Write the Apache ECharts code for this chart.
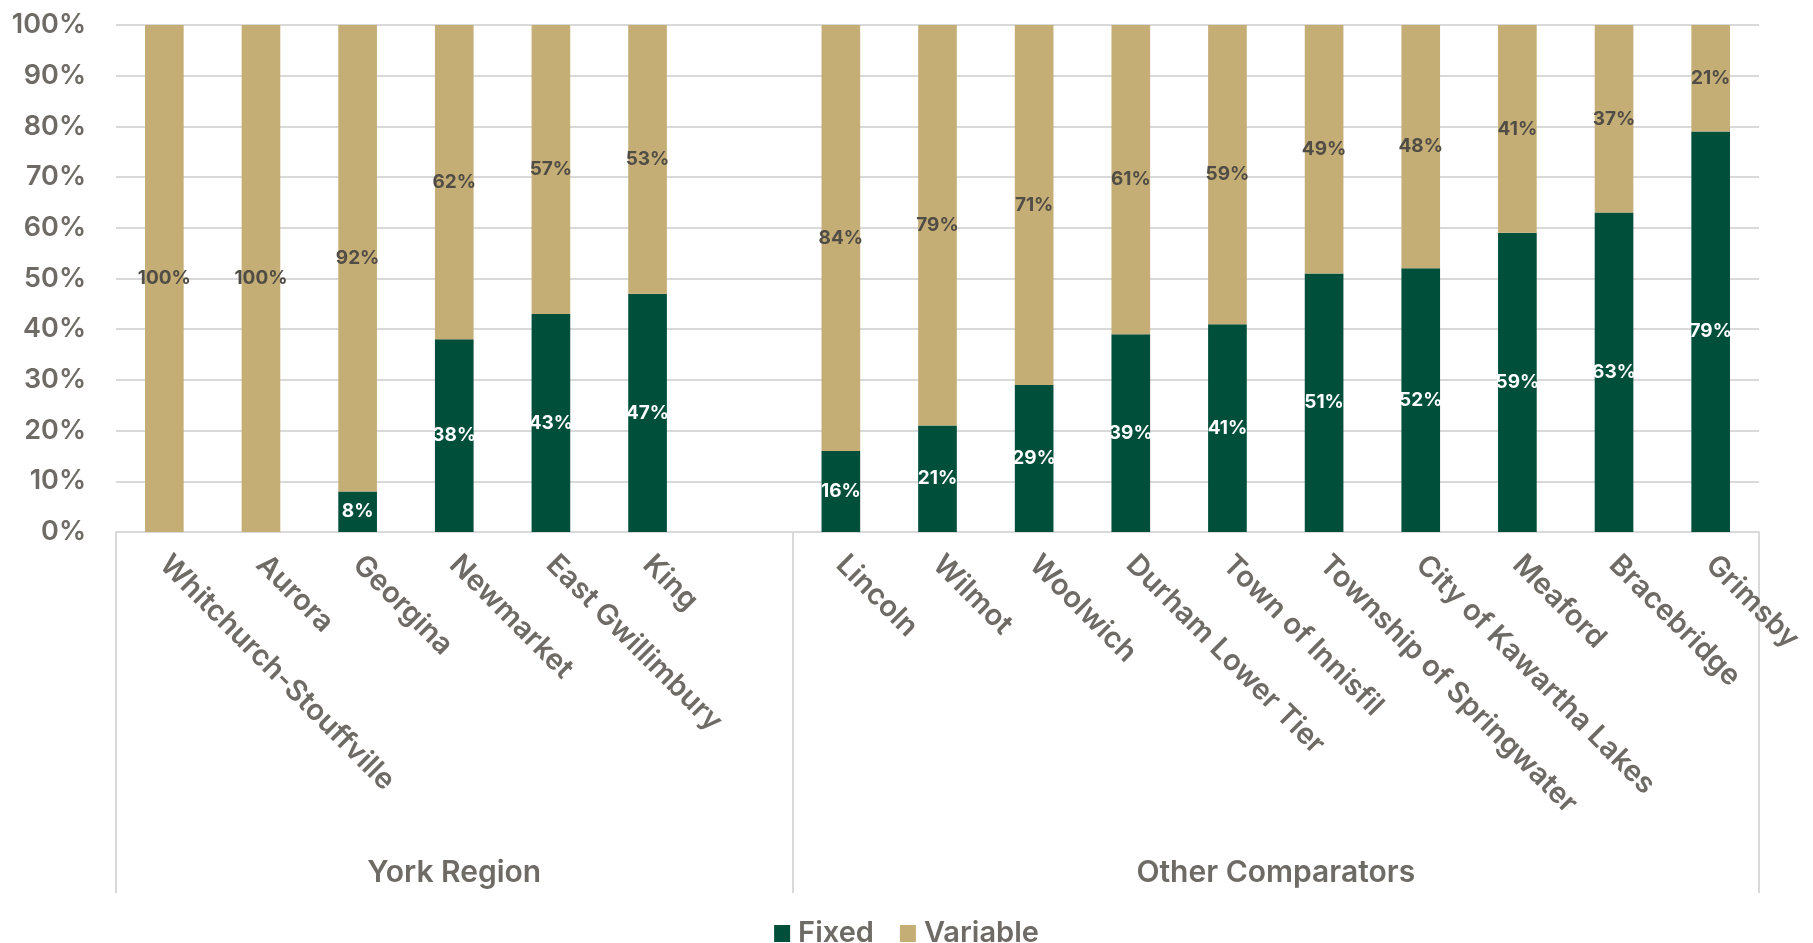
<!DOCTYPE html>
<html>
<head>
<meta charset="utf-8">
<script src="https://cdn.jsdelivr.net/npm/echarts@6/dist/echarts.min.js"></script>
<style>
  html, body { margin: 0; padding: 0; background: #ffffff; }
  #chart { width: 1813px; height: 943px; }
</style>
</head>
<body>
<div id="chart"></div>
<script>
// Municipalities, grouped; the empty entry leaves a gap between the two groups
const categories = [
  'Whitchurch-Stouffville', 'Aurora', 'Georgina', 'Newmarket', 'East Gwillimbury', 'King', '',
  'Lincoln', 'Wilmot', 'Woolwich', 'Durham Lower Tier', 'Town of Innisfil',
  'Township of Springwater', 'City of Kawartha Lakes', 'Meaford', 'Bracebridge', 'Grimsby'
];
const fixedShare    = [0, 0, 8, 38, 43, 47, null, 16, 21, 29, 39, 41, 51, 52, 59, 63, 79];
const variableShare = [100, 100, 92, 62, 57, 53, null, 84, 79, 71, 61, 59, 49, 48, 41, 37, 21];
const groupNames = ['York Region', 'Other Comparators'];
const groupSizes = [7, 10];
const yTicks = [0, 10, 20, 30, 40, 50, 60, 70, 80, 90, 100];

const FONT = 'Inter, "Noto Sans", "DejaVu Sans", sans-serif';
const WEIGHT = 600;
const GREY = '#6e6a65';
const LINE = '#d9d9d9';

// group boundaries and centres along a 0..N value axis
const bounds = [0];
groupSizes.forEach(n => bounds.push(bounds[bounds.length - 1] + n));
const centres = groupSizes.map((n, i) => bounds[i] + n / 2);

const chart = echarts.init(document.getElementById('chart'));

const pctLabel = (color) => ({
  show: true,
  position: 'inside',
  color: color,
  fontFamily: FONT,
  fontWeight: 700,
  fontSize: 19,
  formatter: p => (p.value ? p.value + '%' : '')
});

chart.setOption({
  animation: false,
  grid: { left: 116, right: 54, top: 25, bottom: 411, containLabel: false },
  legend: {
    data: ['Fixed', 'Variable'],
    left: 'center',
    top: 914,
    icon: 'rect',
    itemWidth: 16,
    itemHeight: 17,
    itemGap: 26,
    textStyle: { color: GREY, fontFamily: FONT, fontWeight: WEIGHT, fontSize: 29, padding: [0, 0, 0, 3] }
  },
  xAxis: [
    {
      type: 'category',
      data: categories,
      axisLine: { lineStyle: { color: LINE, width: 2 } },
      axisTick: { show: false },
      axisLabel: {
        interval: 0,
        rotate: -45,
        margin: 28,
        color: GREY,
        fontFamily: FONT,
        fontWeight: WEIGHT,
        fontSize: 29
      }
    },
    {
      // group layer: divider lines and group names below the municipality names
      type: 'value',
      min: 0,
      max: bounds[bounds.length - 1],
      position: 'bottom',
      axisLine: { show: false },
      splitLine: { show: false },
      axisTick: {
        show: true,
        customValues: bounds,
        length: 361,
        lineStyle: { color: LINE, width: 2 }
      },
      axisLabel: {
        customValues: centres,
        margin: 326,
        color: GREY,
        fontFamily: FONT,
        fontWeight: WEIGHT,
        fontSize: 30,
        formatter: v => {
          const i = centres.indexOf(v);
          return i >= 0 ? groupNames[i] : '';
        }
      }
    }
  ],
  yAxis: {
    type: 'value',
    min: 0,
    max: 100,
    interval: 10,
    axisLine: { show: false },
    axisTick: { show: false },
    splitLine: { lineStyle: { color: LINE, width: 2 } },
    axisLabel: {
      margin: 30,
      color: GREY,
      fontFamily: FONT,
      fontWeight: WEIGHT,
      fontSize: 27,
      formatter: v => (yTicks.includes(v) ? v + '%' : '')
    }
  },
  series: [
    {
      name: 'Fixed',
      type: 'bar',
      stack: 'share',
      xAxisIndex: 0,
      barWidth: '40%',
      itemStyle: { color: '#004f3b' },
      label: pctLabel('#ffffff'),
      data: fixedShare
    },
    {
      name: 'Variable',
      type: 'bar',
      stack: 'share',
      xAxisIndex: 0,
      barWidth: '40%',
      itemStyle: { color: '#c5ae76' },
      label: pctLabel('#504c46'),
      data: variableShare
    }
  ]
});
</script>
</body>
</html>
